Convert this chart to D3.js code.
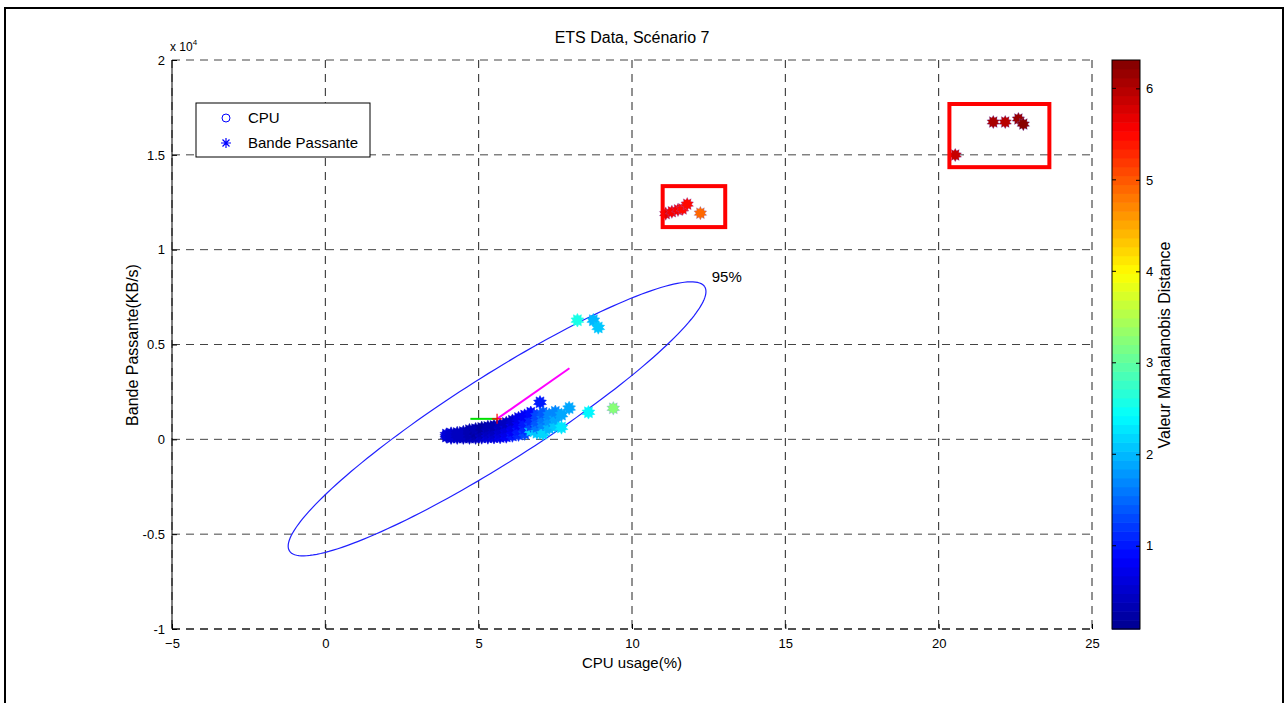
<!DOCTYPE html>
<html>
<head>
    <title>ETS Data, Scénario 7</title>
    <script src="https://d3js.org/d3.v7.min.js"></script>
    <style>
        body {
            margin: 0;
            background-color: #fff;
            font-family: "Liberation Sans", Arial, sans-serif;
        }
        svg text {
            fill: #000;
        }
    </style>
</head>
<body>
    <svg id="chart" width="1288" height="703"></svg>
    <script>
        // axis ticks
        const xTicks = [-5, 0, 5, 10, 15, 20, 25];
        const yTicks = [-10000, -5000, 0, 5000, 10000, 15000, 20000];
        const yTickLabels = ['-1', '-0.5', '0', '0.5', '1', '1.5', '2'];
        const cbTicks = [1, 2, 3, 4, 5, 6];
        const cbDomain = [0.09, 6.31];

        // points: [cpu %, bandwidth KB/s, mahalanobis distance]
        const clusterPoints = [
            [3.95, 150, 0.55], [3.95, 250, 0.6],
            [4.1, 90, 0.5], [4.1, 200, 0.5], [4.1, 300, 0.55],
            [4.3, 90, 0.5], [4.3, 200, 0.45], [4.3, 330, 0.45],
            [4.5, 90, 0.45], [4.5, 220, 0.4], [4.5, 380, 0.4],
            [4.7, 90, 0.45], [4.7, 220, 0.35], [4.7, 360, 0.3], [4.7, 480, 0.35],
            [4.9, 90, 0.45], [4.9, 230, 0.35], [4.9, 380, 0.25], [4.9, 530, 0.3],
            [5.1, 100, 0.5], [5.1, 250, 0.4], [5.1, 400, 0.3], [5.1, 600, 0.25],
            [5.3, 100, 0.6], [5.3, 250, 0.5], [5.3, 420, 0.4], [5.3, 650, 0.3],
            [5.5, 110, 0.65], [5.5, 280, 0.55], [5.5, 450, 0.45], [5.5, 700, 0.35],
            [5.7, 120, 0.75], [5.7, 300, 0.65], [5.7, 500, 0.5], [5.7, 760, 0.4],
            [5.9, 150, 0.85], [5.9, 350, 0.75], [5.9, 580, 0.6], [5.9, 860, 0.45],
            [6.1, 200, 1.0], [6.1, 420, 0.85], [6.1, 680, 0.7], [6.1, 980, 0.55],
            [6.3, 250, 1.15], [6.3, 480, 1.0], [6.3, 780, 0.85], [6.3, 1120, 0.7],
            [6.5, 300, 1.35], [6.5, 560, 1.15], [6.5, 870, 1.0], [6.5, 1250, 0.85],
            [6.7, 475, 2.2], [6.7, 720, 1.35], [6.7, 1000, 1.15], [6.7, 1400, 0.95],
            [6.9, 350, 2.1], [6.9, 650, 1.6], [6.9, 950, 1.45], [6.9, 1250, 1.3],
            [7.0, 1950, 1.0],
            [7.1, 300, 2.15], [7.1, 800, 1.7], [7.1, 1100, 1.55], [7.1, 1400, 1.4],
            [7.3, 600, 2.0], [7.3, 1000, 1.8], [7.3, 1300, 1.65],
            [7.5, 700, 2.1], [7.5, 1100, 1.85], [7.5, 1450, 1.7],
            [7.7, 630, 2.25], [7.7, 1300, 1.9],
            [7.95, 1650, 1.85],
            [8.58, 1425, 2.35], [9.39, 1636, 3.2]
        ];
        const upperPoints = [
            [8.22, 6280, 2.6], [8.74, 6280, 2.0], [8.9, 5900, 2.05]
        ];
        const orangePoints = [
            [11.1, 11900, 5.65], [11.3, 12000, 5.6], [11.5, 12100, 5.55],
            [11.65, 12150, 5.5], [11.8, 12400, 5.45], [12.23, 11926, 4.9]
        ];
        const darkRedPoints = [
            [20.54, 14990, 5.85], [21.78, 16730, 6.05], [22.17, 16730, 6.0],
            [22.6, 16890, 6.2], [22.76, 16620, 6.3]
        ];

        // mean, principal axes and 95% ellipse (semi-axis vectors)
        const meanPoint = [5.6, 1080];
        const majorLine = [[5.6, 1080], [7.96, 3750]];
        const minorLine = [[4.73, 1080], [5.6, 1080]];
        const ellipseMajor = [6.77, 6966];
        const ellipseMinor = [0.753, -1916];
        const ellipseLabel = { x: 12.6, y: 8300, text: '95%' };

        // outlier boxes [x0, x1, y0, y1]
        const outlierBoxes = [
            [11.0, 13.04, 11190, 13350],
            [20.35, 23.61, 14350, 17680]
        ];

        const svg = d3.select('#chart');
        const margin = { left: 172, right: 1092, top: 60, bottom: 629 };

        const x = d3.scaleLinear().domain([-5, 25]).range([margin.left, margin.right]);
        const y = d3.scaleLinear().domain([-10000, 20000]).range([margin.bottom, margin.top]);

        // jet colormap
        const jet = d3.scaleLinear()
            .domain([0, 0.125, 0.375, 0.625, 0.875, 1])
            .range(['#00008f', '#0000ff', '#00ffff', '#ffff00', '#ff0000', '#800000'])
            .clamp(true);
        const color = v => {
            const t = (v - cbDomain[0]) / (cbDomain[1] - cbDomain[0]);
            // 64 discrete levels like matlab
            const q = Math.min(63, Math.floor(t * 64));
            return jet((q + 0.5) / 64);
        };

        // outer frame
        svg.append('rect')
            .attr('x', 5).attr('y', 8)
            .attr('width', 1278).attr('height', 720)
            .attr('fill', 'none')
            .attr('stroke', '#000')
            .attr('stroke-width', 2);

        // grid
        const grid = svg.append('g');
        grid.selectAll('.vg')
            .data(xTicks)
            .enter().append('line')
            .attr('x1', d => x(d)).attr('x2', d => x(d))
            .attr('y1', margin.top).attr('y2', margin.bottom)
            .attr('stroke', '#222')
            .attr('stroke-dasharray', '8,6');
        grid.selectAll('.hg')
            .data(yTicks)
            .enter().append('line')
            .attr('y1', d => y(d)).attr('y2', d => y(d))
            .attr('x1', margin.left).attr('x2', margin.right)
            .attr('stroke', '#444')
            .attr('stroke-dasharray', '8,6');

        // axes (left solid, small inward ticks)
        svg.append('line')
            .attr('x1', margin.left).attr('x2', margin.left)
            .attr('y1', margin.top).attr('y2', margin.bottom)
            .attr('stroke', '#000');
        svg.append('line')
            .attr('x1', margin.left).attr('x2', margin.right)
            .attr('y1', margin.bottom).attr('y2', margin.bottom)
            .attr('stroke', '#000')
            .attr('stroke-dasharray', '8,6');

        const xAxis = svg.append('g')
            .attr('transform', `translate(0,${margin.bottom})`)
            .call(d3.axisBottom(x).tickValues(xTicks).tickSize(-5).tickPadding(10).tickFormat(d3.format('d')));
        xAxis.select('.domain').remove();
        xAxis.selectAll('text')
            .attr('font-size', 13)
            .attr('font-family', '"Liberation Sans", Arial, sans-serif');

        const yAxis = svg.append('g')
            .attr('transform', `translate(${margin.left},0)`)
            .call(d3.axisLeft(y).tickValues(yTicks).tickSize(-5).tickPadding(7)
                .tickFormat((d, i) => yTickLabels[i]));
        yAxis.select('.domain').remove();
        yAxis.selectAll('text')
            .attr('font-size', 13)
            .attr('font-family', '"Liberation Sans", Arial, sans-serif');

        // exponent label
        const expo = svg.append('text')
            .attr('x', 170).attr('y', 51)
            .attr('font-size', 12);
        expo.append('tspan').text('x 10');
        expo.append('tspan').attr('dy', -6).attr('font-size', 8).text('4');

        // ellipse
        const ellipsePts = d3.range(0, 361, 2).map(a => {
            const t = a * Math.PI / 180;
            return [
                meanPoint[0] + Math.cos(t) * ellipseMajor[0] + Math.sin(t) * ellipseMinor[0],
                meanPoint[1] + Math.cos(t) * ellipseMajor[1] + Math.sin(t) * ellipseMinor[1]
            ];
        });
        const line = d3.line().x(d => x(d[0])).y(d => y(d[1])).curve(d3.curveLinear);
        svg.append('path')
            .attr('d', line(ellipsePts))
            .attr('fill', 'none')
            .attr('stroke', '#2020ff')
            .attr('stroke-width', 1.2);

        svg.append('text')
            .attr('x', x(ellipseLabel.x)).attr('y', y(ellipseLabel.y))
            .attr('font-size', 15)
            .text(ellipseLabel.text);

        // points as filled stars
        const starPath = (() => {
            const pts = d3.range(20).map(i => {
                const r = i % 2 ? 4.4 : 6.8;
                const a = i * Math.PI / 10 - Math.PI / 2;
                return [r * Math.cos(a), r * Math.sin(a)];
            });
            return 'M' + pts.map(p => p.join(',')).join('L') + 'Z';
        })();

        const allPoints = clusterPoints.concat(upperPoints, orangePoints, darkRedPoints);
        svg.append('g').selectAll('path')
            .data(allPoints)
            .enter().append('path')
            .attr('d', starPath)
            .attr('transform', d => `translate(${x(d[0])},${y(d[1])})`)
            .attr('fill', d => color(d[2]))
            .attr('stroke', d => d[2] > 3 ? '#7070ff' : color(d[2]))
            .attr('stroke-opacity', d => d[2] > 3 ? 0.5 : 1)
            .attr('stroke-width', 0.5);

        // principal axes
        svg.append('path')
            .attr('d', line(majorLine))
            .attr('stroke', '#ff00ff')
            .attr('stroke-width', 2)
            .attr('fill', 'none');
        svg.append('path')
            .attr('d', line(minorLine))
            .attr('stroke', '#00e000')
            .attr('stroke-width', 2)
            .attr('fill', 'none');
        const mx = x(meanPoint[0]), my = y(meanPoint[1]);
        svg.append('path')
            .attr('d', `M${mx - 5},${my}H${mx + 5}M${mx},${my - 5}V${my + 5}`)
            .attr('stroke', '#ff0000')
            .attr('stroke-width', 1.2);

        // outlier boxes
        svg.append('g').selectAll('rect')
            .data(outlierBoxes)
            .enter().append('rect')
            .attr('x', d => x(d[0]))
            .attr('y', d => y(d[3]))
            .attr('width', d => x(d[1]) - x(d[0]))
            .attr('height', d => y(d[2]) - y(d[3]))
            .attr('fill', 'none')
            .attr('stroke', '#ff0000')
            .attr('stroke-width', 4);

        // legend
        const legend = svg.append('g').attr('transform', 'translate(196,103)');
        legend.append('rect')
            .attr('width', 174).attr('height', 54)
            .attr('fill', '#fff').attr('stroke', '#000');
        legend.append('circle')
            .attr('cx', 30).attr('cy', 15).attr('r', 4)
            .attr('fill', 'none').attr('stroke', '#0000ff');
        legend.append('path')
            .attr('d', 'M30,35V45M25,40H35M26.5,36.5L33.5,43.5M33.5,36.5L26.5,43.5')
            .attr('stroke', '#0000ff').attr('stroke-width', 1.2);
        legend.append('text').attr('x', 52).attr('y', 20).attr('font-size', 15).text('CPU');
        legend.append('text').attr('x', 52).attr('y', 45).attr('font-size', 15).text('Bande Passante');

        // titles
        svg.append('text')
            .attr('x', 632).attr('y', 43)
            .attr('text-anchor', 'middle')
            .attr('font-size', 16)
            .text('ETS Data, Scénario 7');
        svg.append('text')
            .attr('x', 632).attr('y', 668)
            .attr('text-anchor', 'middle')
            .attr('font-size', 15)
            .text('CPU usage(%)');
        svg.append('text')
            .attr('transform', 'translate(138,345) rotate(-90)')
            .attr('text-anchor', 'middle')
            .attr('font-size', 16)
            .text('Bande Passante(KB/s)');

        // colorbar
        const cb = { x: 1112, w: 28 };
        const cbScale = d3.scaleLinear().domain(cbDomain).range([margin.bottom, margin.top]);
        const levels = d3.range(64);
        svg.append('g').selectAll('rect')
            .data(levels)
            .enter().append('rect')
            .attr('x', cb.x)
            .attr('width', cb.w)
            .attr('y', d => margin.bottom - (d + 1) * (margin.bottom - margin.top) / 64)
            .attr('height', (margin.bottom - margin.top) / 64 + 0.6)
            .attr('fill', d => jet((d + 0.5) / 64));
        svg.append('rect')
            .attr('x', cb.x).attr('y', margin.top)
            .attr('width', cb.w).attr('height', margin.bottom - margin.top)
            .attr('fill', 'none').attr('stroke', '#000');
        const cbAxis = svg.append('g')
            .attr('transform', `translate(${cb.x + cb.w},0)`)
            .call(d3.axisRight(cbScale).tickValues(cbTicks).tickSize(-4).tickPadding(6).tickFormat(d3.format('d')));
        cbAxis.select('.domain').remove();
        cbAxis.selectAll('text')
            .attr('font-size', 13)
            .attr('font-family', '"Liberation Sans", Arial, sans-serif');
        svg.append('g').selectAll('line')
            .data(cbTicks)
            .enter().append('line')
            .attr('x1', cb.x).attr('x2', cb.x + 4)
            .attr('y1', d => cbScale(d)).attr('y2', d => cbScale(d))
            .attr('stroke', '#000');
        svg.append('text')
            .attr('transform', 'translate(1170,345) rotate(-90)')
            .attr('text-anchor', 'middle')
            .attr('font-size', 16)
            .text('Valeur Mahalanobis Distance');
    </script>
</body>
</html>
